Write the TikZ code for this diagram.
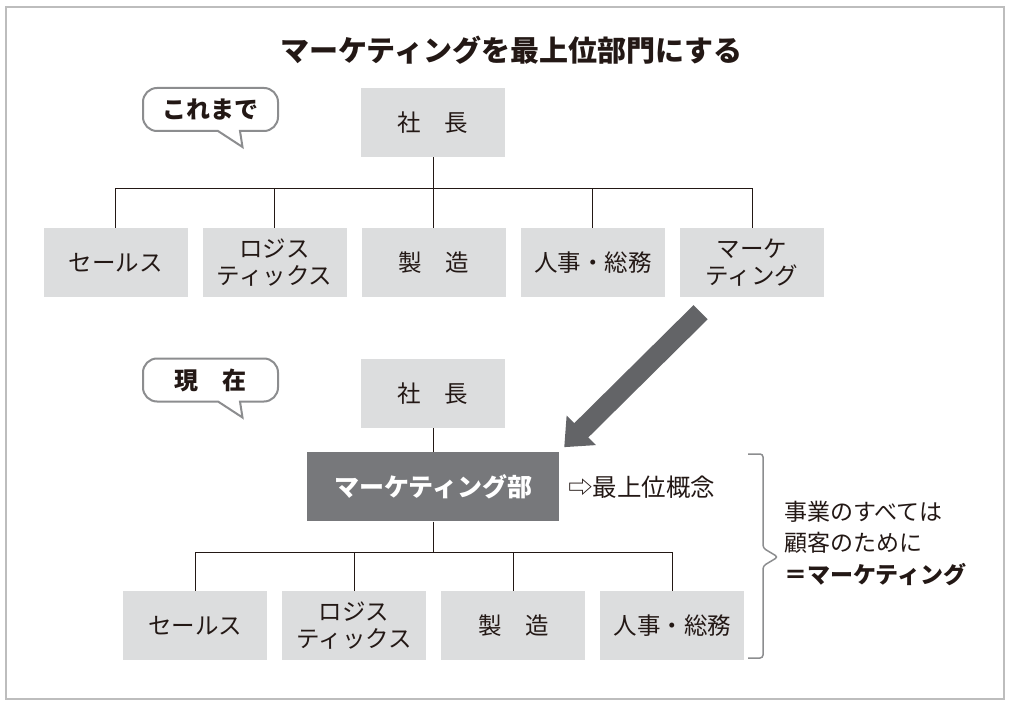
\documentclass[tikz,border=0pt]{standalone}
\usepackage{fontspec}
\setmainfont{Noto Sans CJK JP}
\usepackage{tikz}
\usetikzlibrary{calc,positioning,arrows.meta}
\definecolor{boxgray}{HTML}{DCDDDE}
\definecolor{deptgray}{HTML}{77787B}
\definecolor{arrowgray}{HTML}{636467}
\definecolor{linegray}{HTML}{8C8D8F}
\definecolor{framegray}{HTML}{BDBDBD}
\definecolor{inkblack}{HTML}{231815}
\tikzset{
  unit/.style={fill=boxgray, minimum width=144pt, minimum height=69pt, inner sep=0pt,
    align=center, text=inkblack, font=\fontsize{23.5}{27}\selectfont},
  dept/.style={unit, fill=deptgray, minimum width=252pt, text=white,
    font=\fontsize{25}{30}\selectfont\bfseries},
  wire/.style={draw=inkblack, line width=1pt},
  bubbletext/.style={inner sep=0pt, text=inkblack, font=\fontsize{24}{28}\selectfont\bfseries},
  bubbleline/.style={draw=linegray, line width=2pt, fill=white},
  bigarrow/.style={draw=arrowgray, line width=20pt, -{Triangle[width=40pt,length=24pt]}}
}
\newcommand*{\SpeechBubble}[3]{% #1 = name, #2 = centre x,y, #3 = text
\begin{scope}[shift={(#2)}]
\draw[bubbleline] (0,-22) [rounded corners=14pt] -- (67.5,-22) -- (67.5,21)
  [sharp corners] -- (29.5,21) -- (32,37) -- (7.5,21)
  [rounded corners=14pt] -- (-67.5,21) -- (-67.5,-22) -- cycle;
\node [bubbletext] (#1) at (0,0) {#3};
\end{scope}%
}

\begin{document}
\begin{tikzpicture}[x=1pt, y=-1pt]

            \useasboundingbox (0,0) rectangle (1013,706);
            \draw[framegray, line width=1.5pt] (6,7) rectangle (1004,699);
            \node[text=inkblack, font=\fontsize{29}{34}\selectfont\bfseries] (title) at (511.5,50) {マーケティングを最上位部門にする};

            % before
            \SpeechBubble{before}{210.5,110}{これまで}
            \node[unit] (ceo1) at (433,122.5) {社　長};
            \node[unit] (sales1) at (115.5,262.5) {セールス};
            \node[unit, right=14.75pt of sales1] (logi1) {ロジス\\ティックス};
            \node[unit, right=14.75pt of logi1] (make1) {製　造};
            \node[unit, right=14.75pt of make1] (hr1) {人事・総務};
            \node[unit, right=14.75pt of hr1] (mk1) {マーケ\\ティング};
            \coordinate (bus1) at (433,189);
            \draw[wire] (ceo1) -- (bus1);
            \foreach \n in {sales1,logi1,make1,hr1,mk1}
                \draw[wire] (bus1) -| (\n.north);

            % now
            \SpeechBubble{now}{210.5,380.5}{現　在}
            \node[unit] (ceo2) at (433,393.5) {社　長};
            \node[dept, below=24pt of ceo2] (dept) {マーケティング部};
            \node[unit] (sales2) at (195,625.5) {セールス};
            \node[unit, right=14.75pt of sales2] (logi2) {ロジス\\ティックス};
            \node[unit, right=14.75pt of logi2] (make2) {製　造};
            \node[unit, right=14.75pt of make2] (hr2) {人事・総務};
            \coordinate (bus2) at (433,552);
            \draw[wire] (ceo2) -- (dept);
            \draw[wire] (dept) -- (bus2);
            \foreach \n in {sales2,logi2,make2,hr2}
                \draw[wire] (bus2) -| (\n.north);

            \draw[bigarrow] ($(mk1.south)+(-51.5,15)$) -- ($(dept.north east)+(5,-5)$);
            \node[right=9pt of dept, inner sep=0pt, text=inkblack, font=\fontsize{24.5}{28}\selectfont] (top) {⇨最上位概念};
            \draw[linegray, line width=1.5pt, rounded corners=3pt] (748,454) -- (763,454) -- (763,548)
                -- (778,557) -- (763,566) -- (763,658) -- (748,658);
            \node[anchor=west, inner sep=0pt, align=left, text=inkblack, font=\fontsize{23}{31.5}\selectfont] (summary) at (784,543)
                {事業のすべては\\顧客のために\\\textbf{＝マーケティング}};
        \end{tikzpicture}
\end{document}
